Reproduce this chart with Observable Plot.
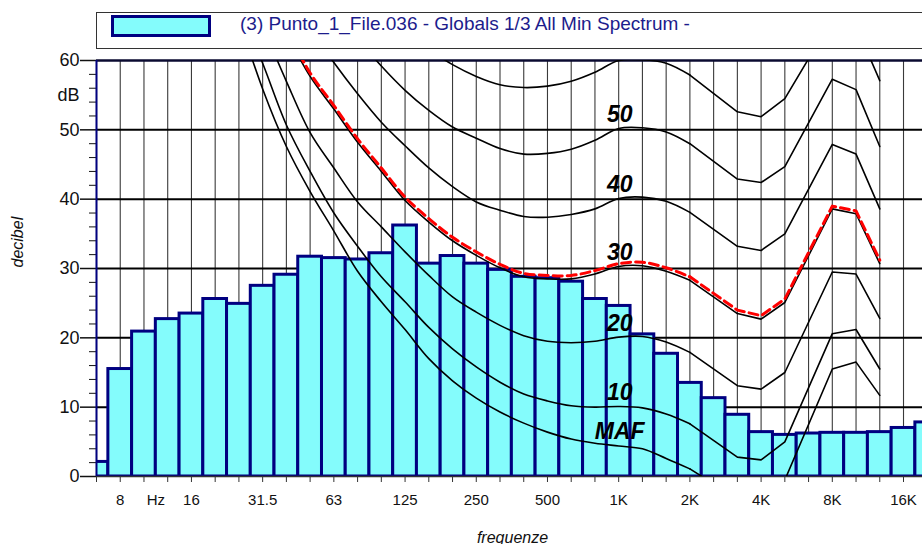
<!DOCTYPE html>
<html><head><meta charset="utf-8">
<script src="https://cdn.jsdelivr.net/npm/d3@7"></script>
<script src="https://cdn.jsdelivr.net/npm/@observablehq/plot@0.6"></script>
<style>
html,body{margin:0;padding:0;background:#fff;overflow:hidden;width:922px;height:544px;}
body{font-family:"Liberation Sans",Arial,sans-serif;}
#legend{position:relative;height:50px;width:922px;overflow:hidden;}
#legend .box{position:absolute;left:96px;top:12px;width:860px;height:35px;border:1px solid #333;}
#legend .swatch{position:absolute;left:111px;top:14.5px;width:94px;height:16px;border:3px solid #000080;background:#84fcfc;}
#legend .ltext{position:absolute;left:240px;top:12px;line-height:24px;font-size:19px;color:#1c1c8c;white-space:nowrap;}
#chart svg{display:block;}
</style></head><body>
<div id="legend"><div class="box"></div><div class="swatch"></div><div class="ltext" id="ltext"></div></div>
<div id="chart"></div>
<script>
// ---------- data ----------
const seriesTitle = "(3) Punto_1_File.036 - Globals 1/3 All Min Spectrum -";

const bandFreqs = [6.3, 8, 10, 12.5, 16, 20, 25, 31.5, 40, 50, 63, 80, 100, 125, 160, 200, 250, 315, 400, 500,
  630, 800, 1000, 1250, 1600, 2000, 2500, 3150, 4000, 5000, 6300, 8000, 10000, 12500, 16000, 20000];
const spectrum = [2.1, 15.5, 20.9, 22.7, 23.5, 25.6, 24.9, 27.5, 29.1, 31.7, 31.5, 31.3, 32.2, 36.2, 30.7, 31.8, 30.7, 29.8, 28.8, 28.6,
  28.1, 25.6, 24.6, 20.5, 17.7, 13.5, 11.3, 8.9, 6.4, 6.0, 6.2, 6.3, 6.3, 6.4, 7.0, 7.8];

const contourFreqs = [25, 31.5, 40, 50, 63, 80, 100, 125, 160, 200, 250, 315, 400, 500, 630, 800, 1000, 1250, 1600, 2000,
  3150, 4000, 5000, 8000, 10000, 12500];
const contourMAF = [66, 55.9, 47.6, 41.1, 35.4, 29.6, 25.2, 21.2, 17.0, 13.8, 11.3, 9.3, 7.7, 6.4, 5.4, 4.8, 4.4, 4.0, 2.6, 1.1,
  -3.2, -3.6, -0.5, 15.5, 16.5, 11.7];
const contour10 = [68, 59.6, 50.7, 44.0, 38.0, 33.2, 28.8, 25.2, 21.5, 18.4, 15.8, 13.6, 11.9, 10.9, 10.2, 10.0, 10.1, 9.9, 9.0, 7.6,
  2.8, 2.4, 5.0, 20.6, 21.2, 15.5];
const contour20 = [null, 65, 57.0, 49.6, 44.5, 39.6, 36.0, 32.4, 29.0, 25.9, 23.7, 21.8, 20.3, 19.5, 19.3, 19.5, 20.1, 20.2, 19.4, 17.9,
  13.1, 12.6, 15.0, 29.5, 29.2, 22.8];
const contour30 = [null, null, 64, 57.7, 53.0, 48.2, 44.0, 39.8, 36.7, 34.0, 31.9, 30.1, 28.8, 28.5, 28.5, 29.2, 30.3, 30.4, 29.6, 28.3,
  23.5, 22.7, 25.1, 38.6, 37.9, 30.7];
const contour40 = [null, null, null, 64.6, 59.7, 55.2, 51.1, 47.7, 44.5, 41.8, 39.6, 38.4, 37.5, 37.4, 37.8, 38.6, 40.1, 40.3, 39.7, 38.1,
  33.2, 32.6, 35.0, 47.9, 46.5, 38.6];
const contour50 = [null, null, null, null, null, 63.2, 59.2, 55.7, 52.8, 50.4, 48.8, 47.3, 46.5, 46.6, 47.2, 48.5, 50.2, 50.3, 49.7, 48.0,
  42.9, 42.4, 44.7, 57.3, 55.8, 47.6];
const contour60 = [null, null, null, null, null, null, null, null, 61.6, 59.4, 57.7, 56.5, 56.1, 56.3, 57.0, 58.3, 60.0, 60.1, 59.6, 57.9,
  52.6, 51.9, 54.5, 66.0, 65.0, 57.1];
const loudnessCurve = [null, null, 64.5, 58.2, 53.5, 48.7, 44.5, 40.3, 37.2, 34.5, 32.4, 30.6, 29.3, 29.0, 29.0, 29.7, 30.7, 30.9, 30.1, 28.8,
  24.0, 23.2, 25.6, 39.0, 38.3, 31.2];

const contourNames = ["MAF", "10", "20", "30", "40", "50", "60"];
const labelledContours = ["50", "40", "30", "20", "10", "MAF"];

const tickLabelFreqs = [8, 16, 31.5, 63, 125, 250, 500, 1000, 2000, 4000, 8000, 16000];
const tickLabels = ["8", "16", "31.5", "63", "125", "250", "500", "1K", "2K", "4K", "8K", "16K"];
const yMajorTicks = [0, 10, 20, 30, 40, 50, 60];
const yMinorTicks = [2, 4, 6, 8, 12, 14, 16, 18, 22, 24, 26, 28, 32, 34, 36, 38, 42, 44, 46, 48, 52, 54, 56, 58];

// ---------- build ----------
document.getElementById("ltext").textContent = seriesTitle;

const band = f => Math.round(10 * Math.log10(f));          // 1/3-octave band number
const fc = f => 10 ** (band(f) / 10);                        // exact centre frequency
const xDomain = [fc(6.3), 10 ** 4.28];

const bars = bandFreqs.map((f, i) => ({
  f, v: spectrum[i],
  lo: 10 ** ((band(f) - 0.5) / 10), hi: 10 ** ((band(f) + 0.5) / 10)
}));
const contourSeries = [contourMAF, contour10, contour20, contour30, contour40, contour50, contour60];
const contourRows = contourSeries.flatMap((vals, k) =>
  contourFreqs.map((f, i) => ({name: contourNames[k], nominal: f, f: fc(f), v: vals[i]})));
const redRows = contourFreqs.map((f, i) => ({nominal: f, f: fc(f), v: loudnessCurve[i]}));
const at1k = contourFreqs.indexOf(1000);
const labelRows = labelledContours.map(n => ({text: n, v: contourSeries[contourNames.indexOf(n)][at1k]}));

const gridFreqs = bandFreqs.map(fc).filter(f => f <= xDomain[1]);
const labelByBand = new Map(tickLabelFreqs.map((f, i) => [band(f), tickLabels[i]]));
const labelFor = d => labelByBand.get(Math.round(10 * Math.log10(+d))) ?? "";
const hzPos = Math.sqrt(fc(10) * fc(12.5));

const navy = "#000080";
const svg = Plot.plot({
  width: 922, height: 494,
  marginLeft: 96, marginRight: 0, marginTop: 10, marginBottom: 68,
  style: {fontFamily: "'Liberation Sans', Arial, sans-serif", background: "white", color: "#111", overflow: "visible"},
  x: {type: "log", domain: xDomain},
  y: {domain: [0, 60]},
  marks: [
    Plot.ruleX(gridFreqs, {stroke: "#3a3a3a", strokeWidth: 1.1}),
    Plot.ruleY([10, 20, 30, 40, 50], {stroke: "#000", strokeWidth: 2}),
    Plot.rectY(bars, {x1: "lo", x2: "hi", y: "v", fill: "#84fcfc", stroke: navy, strokeWidth: 3, clip: true}),
    Plot.ruleY([0], {stroke: "#333", strokeWidth: 1.5}),
    Plot.ruleY([60], {stroke: "#0a0a30", strokeWidth: 2.5}),
    Plot.line(contourRows.filter(d => d.nominal <= 2000), {x: "f", y: "v", z: "name", curve: "catmull-rom", stroke: "#000", strokeWidth: 1.6, clip: true}),
    Plot.line(contourRows.filter(d => d.nominal >= 2000), {x: "f", y: "v", z: "name", stroke: "#000", strokeWidth: 1.6, clip: true}),
    Plot.line(redRows.filter(d => d.nominal <= 2000), {x: "f", y: "v", curve: "catmull-rom", stroke: "#ff0000", strokeWidth: 3, strokeDasharray: "9,5", clip: true}),
    Plot.line(redRows.filter(d => d.nominal >= 2000), {x: "f", y: "v", stroke: "#ff0000", strokeWidth: 3, strokeDasharray: "9,5", clip: true}),
    Plot.text(labelRows, {x: () => fc(1000), y: "v", text: "text", dy: -14, dx: 1, fontWeight: "bold", fontStyle: "italic", fontSize: 23, fill: "#000", ariaLabel: "contour labels"}),
    Plot.axisX(gridFreqs, {tickSize: 6, tickFormat: () => "", stroke: "#333", label: null}),
    Plot.text(tickLabelFreqs, {x: fc, frameAnchor: "bottom", dy: 24, lineAnchor: "middle", text: labelFor, fontSize: 15, fill: "#111"}),
    Plot.text([hzPos], {x: d => d, frameAnchor: "bottom", dy: 24, lineAnchor: "middle", text: () => "Hz", fontSize: 15, fill: "#111"}),
    Plot.axisY(yMajorTicks, {tickSize: 16, tickPadding: 1, fontSize: 18, strokeWidth: 1.5, label: null}),
    Plot.axisY(yMinorTicks, {tickSize: 7, tickFormat: () => "", label: null}),
    Plot.axisY([55], {tickSize: 0, tickPadding: 17, tickFormat: () => "dB", fontSize: 18, label: null}),
    Plot.ruleX([xDomain[0]], {stroke: navy, strokeWidth: 2}),
    Plot.text(["decibel"], {frameAnchor: "left", dx: -79, dy: -1, rotate: -90, text: d => d, fontStyle: "italic", fontSize: 16}),
    Plot.text(["frequenze"], {frameAnchor: "bottom", dx: 3, dy: 61, lineAnchor: "middle", text: d => d, fontStyle: "italic", fontSize: 16})
  ]
});

const ns = "http://www.w3.org/2000/svg";
document.getElementById("chart").appendChild(svg);

// white boxes behind the contour labels
const lg = svg.querySelector('g[aria-label="contour labels"]');
if (lg) {
  for (const t of Array.from(lg.querySelectorAll("text"))) {
    const b = t.getBBox();
    const r = document.createElementNS(ns, "rect");
    r.setAttribute("x", b.x - 2); r.setAttribute("y", b.y);
    r.setAttribute("width", b.width + 4); r.setAttribute("height", b.height);
    r.setAttribute("fill", "white");
    if (t.getAttribute("transform")) r.setAttribute("transform", t.getAttribute("transform"));
    lg.insertBefore(r, t);
  }
}
</script>
</body></html>
